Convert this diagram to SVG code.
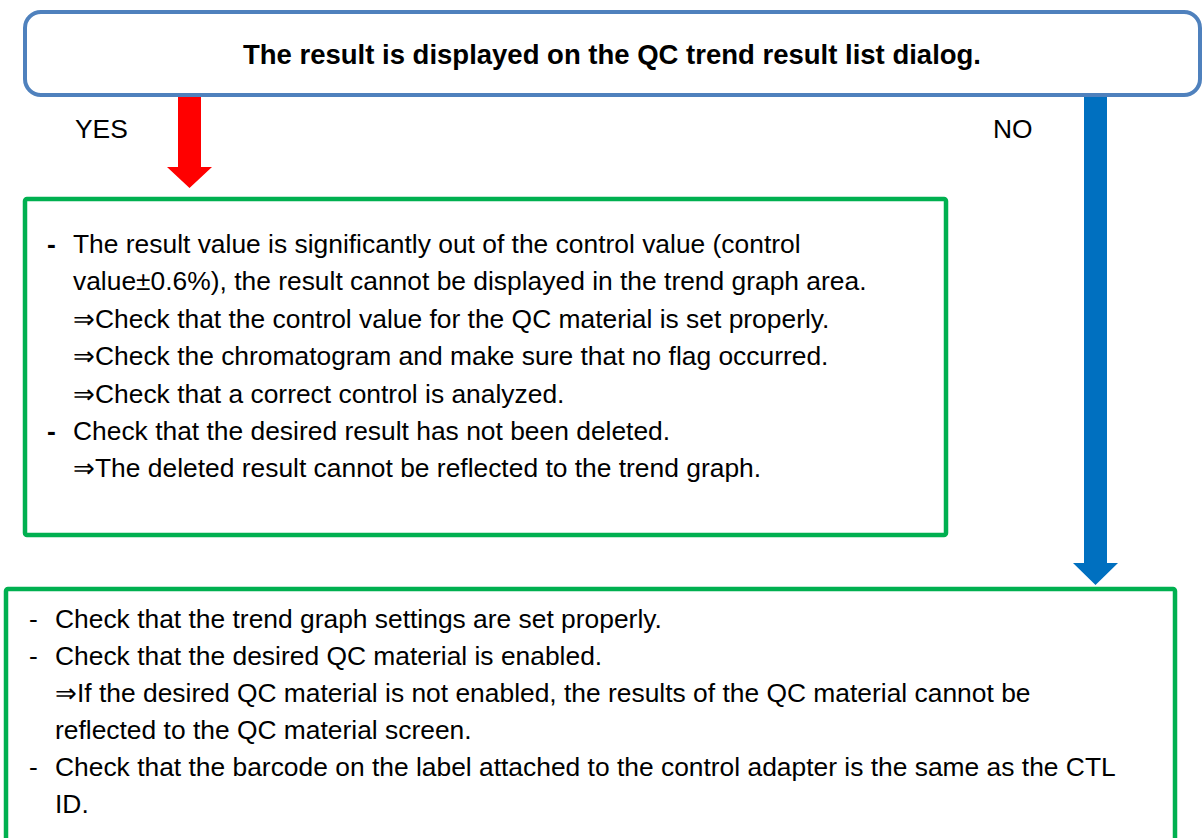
<svg xmlns="http://www.w3.org/2000/svg" width="1203" height="838" viewBox="0 0 1203 838">
<style>
.t{font-family:"Liberation Sans",Arial,sans-serif;font-size:26.4px;fill:#000}
.b{font-weight:bold}
.title{font-size:27.5px}
.box{fill:#fff;stroke:#00B050;stroke-width:4.5}
</style>
<rect width="1203" height="838" fill="#fff"/>
<g id="decision">
<rect x="25" y="12" width="1175" height="83" rx="16" ry="16" fill="#fff" stroke="#4F81BD" stroke-width="4"/>
<text class="t b title" x="612" y="64" text-anchor="middle">The result is displayed on the QC trend result list dialog.</text>
</g>
<g id="connectors">
<polygon points="178,97 201,97 201,167 212,167 189.5,188 167,167 178,167" fill="#FF0000"/>
<text class="t" x="75" y="138">YES</text>
<polygon points="1084,97 1107,97 1107,563 1118,563 1095.5,585 1073,563 1084,563" fill="#0070C0"/>
<text class="t" x="993" y="138">NO</text>
</g>
<g id="yes-box">
<rect class="box" x="25" y="199" width="921" height="336" rx="2"/>
<text class="t b" x="47" y="253">-</text>
<text class="t" x="73" y="253">The result value is significantly out of the control value (control</text>
<text class="t" x="73" y="290">value±0.6%), the result cannot be displayed in the trend graph area.</text>
<text class="t" x="73" y="328">⇒Check that the control value for the QC material is set properly.</text>
<text class="t" x="73" y="365">⇒Check the chromatogram and make sure that no flag occurred.</text>
<text class="t" x="73" y="403">⇒Check that a correct control is analyzed.</text>
<text class="t b" x="47" y="440">-</text>
<text class="t" x="73" y="440">Check that the desired result has not been deleted.</text>
<text class="t" x="73" y="477">⇒The deleted result cannot be reflected to the trend graph.</text>
</g>
<g id="no-box">
<rect class="box" x="6" y="589" width="1169" height="260" rx="2"/>
<text class="t" x="29" y="628">-</text>
<text class="t" x="55" y="628">Check that the trend graph settings are set properly.</text>
<text class="t" x="29" y="665">-</text>
<text class="t" x="55" y="665">Check that the desired QC material is enabled.</text>
<text class="t" x="55" y="702">⇒If the desired QC material is not enabled, the results of the QC material cannot be</text>
<text class="t" x="55" y="739">reflected to the QC material screen.</text>
<text class="t" x="29" y="776">-</text>
<text class="t" x="55" y="776">Check that the barcode on the label attached to the control adapter is the same as the CTL</text>
<text class="t" x="55" y="813">ID.</text>
</g>
</svg>
